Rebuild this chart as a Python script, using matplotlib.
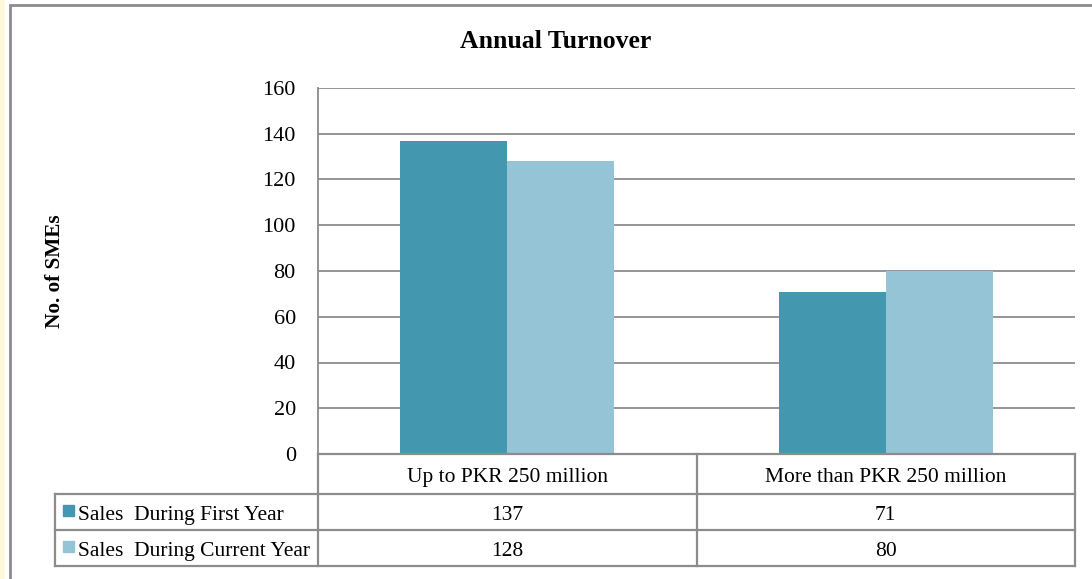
import matplotlib
matplotlib.use("Agg")
import matplotlib.pyplot as plt
from matplotlib.lines import Line2D
from matplotlib.patches import Rectangle
import numpy as np

categories = ["Up to PKR 250 million", "More than PKR 250 million"]
series_names = ["Sales  During First Year", "Sales  During Current Year"]
first_year = [137, 71]
current_year = [128, 80]
series_values = [first_year, current_year]
colors = ["#4398AF", "#94C4D5"]
yticks = [0, 20, 40, 60, 80, 100, 120, 140, 160]

W, H = 1092, 579
plt.rcParams['font.family'] = ['Liberation Serif', 'DejaVu Serif']
fig = plt.figure(figsize=(W / 100, H / 100), dpi=100)

def fx(x):
    return x / W

def fy(y):
    return 1 - y / H

grid_c = "#8C8C8C"

# plot area
L, R, T, B = 318, 1075, 88, 454
ax = fig.add_axes([fx(L), fy(B), fx(R) - fx(L), fy(T) - fy(B)])
n = len(categories)
ax.set_xlim(0, n)
ax.set_ylim(0, 160)
ax.set_yticks(yticks)
ax.yaxis.grid(True, color=grid_c, linewidth=1.3)
ax.set_axisbelow(True)
for s in ["top", "right", "bottom"]:
    ax.spines[s].set_visible(False)
ax.spines["left"].set_color(grid_c)
ax.spines["left"].set_linewidth(1.3)
ax.set_xticks([])
ax.tick_params(axis="y", length=0, labelsize=16, pad=16)

bw = 0.283
centers = np.arange(n) + 0.5
for i, vals in enumerate(series_values):
    ax.bar(centers + (i - 0.5) * bw, vals, width=bw, color=colors[i], zorder=3)

fig.text(fx(55), fy(271), "No. of SMEs", rotation=90, ha="center", va="center",
         fontsize=15.3, fontweight="bold")

fig.text(fx(556), fy(42), "Annual Turnover", ha="center", va="center",
         fontsize=18.5, fontweight="bold")

# data table
rows = [454, 494, 530, 566]
LC = 55
colx = [L + (R - L) * k / n for k in range(n + 1)]
lw = 1.6

def hline(x0, x1, y):
    fig.add_artist(Line2D([fx(x0), fx(x1)], [fy(y), fy(y)], color=grid_c, lw=lw,
                          transform=fig.transFigure))

def vline(x, y0, y1):
    fig.add_artist(Line2D([fx(x), fx(x)], [fy(y0), fy(y1)], color=grid_c, lw=lw,
                          transform=fig.transFigure))

hline(L, R, rows[0])
for y in rows[1:]:
    hline(LC, R, y)
vline(LC, rows[1], rows[3])
for x in colx:
    vline(x, rows[0], rows[3])

fs = 15.5
BOFF = 8
for k, cat in enumerate(categories):
    cx = (colx[k] + colx[k + 1]) / 2
    fig.text(fx(cx), fy((rows[0] + rows[1]) / 2 + BOFF), cat, ha="center", va="baseline",
             fontsize=fs)
    for i, vals in enumerate(series_values):
        fig.text(fx(cx), fy((rows[i + 1] + rows[i + 2]) / 2 + BOFF), str(vals[k]),
                 ha="center", va="baseline", fontsize=fs)

for i, name in enumerate(series_names):
    yc = (rows[i + 1] + rows[i + 2]) / 2
    fig.add_artist(Rectangle((fx(63), fy(yc + 4)), fx(11), fy(0) - fy(11), color=colors[i],
                             transform=fig.transFigure))
    fig.text(fx(78), fy(yc + BOFF), name, ha="left", va="baseline", fontsize=fs)

# outer frame
fig.add_artist(Rectangle((fx(10), fy(H + 20)), fx(W + 20), fy(5) - fy(H + 20),
                         fill=False, edgecolor="#8C8C8C", lw=2, transform=fig.transFigure))
fig.add_artist(Line2D([fx(2), fx(2)], [fy(0), fy(H)], color="#FFF8D8", lw=4,
                      transform=fig.transFigure))

fig.savefig("out.png", dpi=100)
